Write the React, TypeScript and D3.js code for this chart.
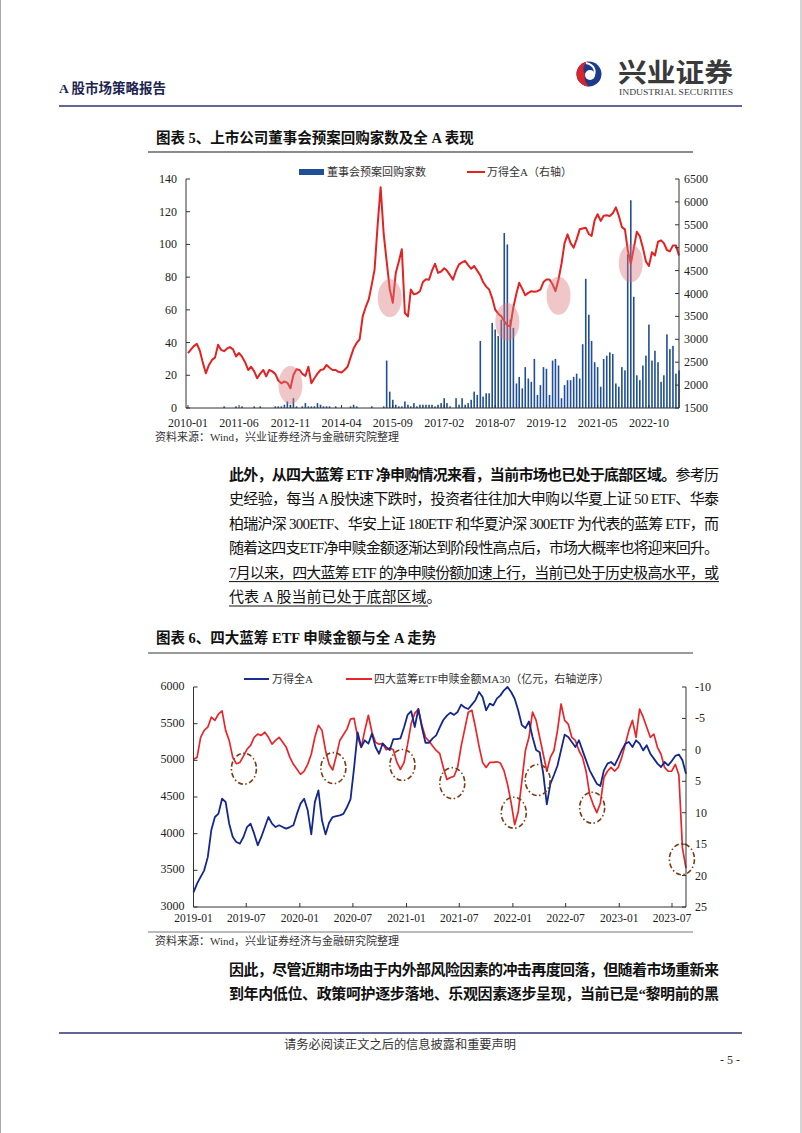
import React from 'react';
import * as d3 from 'd3';

// ---------------- Chart 1 data (monthly, 2010-01 .. 2023-08) ----------------
const chart1FirstMonth = '2010-01';
const buybackCounts = [
  0, 0, 0, 0, 0, 0, 0, 0, 0, 0,
  0, 0, 1, 0, 0, 0, 1, 0, 1, 0,
  0, 0, 1, 0, 1, 0, 0, 0, 0, 1,
  1, 1, 2, 4, 2, 6, 1, 0, 1, 3,
  1, 1, 1, 3, 2, 1, 1, 1, 0, 1,
  0, 0, 0, 0, 1, 2, 1, 0, 0, 0,
  0, 1, 0, 0, 0, 1, 29, 10, 5, 2,
  1, 1, 4, 2, 1, 3, 1, 2, 2, 2,
  2, 2, 1, 2, 3, 6, 3, 1, 0, 6,
  2, 6, 2, 3, 5, 10, 8, 41, 7, 9,
  9, 52, 48, 44, 54, 107, 100, 54, 49, 15,
  19, 12, 25, 18, 16, 30, 8, 14, 25, 24,
  8, 29, 30, 26, 6, 14, 17, 17, 19, 21,
  18, 39, 79, 57, 41, 28, 25, 13, 30, 32,
  34, 33, 15, 13, 25, 23, 94, 127, 68, 20,
  17, 26, 32, 51, 29, 35, 28, 16, 20, 45,
  36, 38, 21, 23,
];
const windAMonthly = [
  2700, 2780, 2850, 2900, 2750, 2480, 2260, 2440, 2550, 2600,
  2880, 2770, 2740, 2800, 2830, 2780, 2625, 2700, 2620, 2500,
  2330, 2400, 2300, 2150, 2250, 2330, 2190, 2330, 2300, 2245,
  2100, 2040, 2080, 2050, 1930, 2220, 2345, 2330, 2245, 2200,
  2400, 2040, 2150, 2250, 2330, 2345, 2440, 2380, 2330, 2330,
  2290, 2275, 2330, 2400, 2600, 2800, 2920, 3000, 3500, 3700,
  3870, 4200, 4525, 5500, 6320, 5300, 4700, 4100, 3795, 4450,
  4700, 4965, 3575, 3500, 4085, 3980, 4000, 4050, 4250, 4310,
  4300, 4500, 4650, 4450, 4480, 4550, 4500, 4400, 4300, 4500,
  4635, 4680, 4710, 4620, 4540, 4600, 4500, 4394, 4250, 4150,
  4087, 3900, 3650, 3560, 3503, 3400, 3300, 3284, 3700, 4000,
  4233, 4100, 3960, 4014, 4051, 4040, 4051, 4087, 4250, 4306,
  4306, 4200, 4051, 4306, 4650, 5100, 5292, 5100, 5000, 5182,
  5401, 5420, 5438, 5300, 5255, 5600, 5730, 5584, 5700, 5708,
  5693, 5750, 5880, 5700, 5450, 5400, 4950, 4650, 4980, 5350,
  5250, 5000, 4700, 4600, 4900, 4830, 5130, 5160, 5100, 4950,
  4920, 5050, 5050, 4830,
];
const chart1LabelStep = 17;
const chart1LeftTicks = [0, 20, 40, 60, 80, 100, 120, 140];
const chart1RightTicks = [1500, 2000, 2500, 3000, 3500, 4000, 4500, 5000, 5500, 6000, 6500];
const chart1Highlights = [
  { month: '2012-11', value: 2000 },
  { month: '2015-08', value: 3900 },
  { month: '2018-11', value: 3380 },
  { month: '2020-04', value: 3950 },
  { month: '2022-04', value: 4660 },
];

// ---------------- Chart 2 data (regular sampling, 2019-01-01 .. 2023-08-18) ----------------
const chart2Start = '2019-01-01';
const chart2End = '2023-08-18';
const windADaily = [
  3200, 3318, 3410, 3500, 3680, 4050, 4227, 4273, 4477, 4432,
  4136, 3955, 3886, 3864, 3955, 4090, 4136, 4000, 3841, 3955,
  4090, 4227, 4136, 4090, 4114, 4090, 4068, 4090, 4114, 4273,
  4410, 4477, 4318, 3990, 4430, 4590, 4182, 3990, 4150, 4227,
  4240, 4250, 4270, 4360, 4470, 4900, 5380, 5182, 5273, 5227,
  5364, 5182, 5090, 5230, 5180, 5140, 5290, 5290, 5300, 5450,
  5620, 5670, 5455, 5700, 5450, 5240, 5240, 5300, 5340, 5450,
  5550, 5610, 5650, 5620, 5660, 5760, 5720, 5700, 5760, 5820,
  5932, 5864, 5682, 5773, 5750, 5841, 5886, 5955, 6000, 5932,
  5840, 5680, 5480, 5440, 5530, 5318, 5140, 5110, 4818, 4400,
  4680, 4800, 4930, 5140, 5350, 5318, 5250, 5182, 5273, 5136,
  5000, 4864, 4773, 4682, 4650, 4864, 4955, 4977, 4932, 5030,
  5136, 5227, 5250, 5182, 5273, 5227, 5136, 5205, 5091, 5023,
  4955, 4909, 4977, 4932, 4990, 5060, 5080, 5000, 4818,
];
const etfFlowMA30 = [
  1.5, 1.2, -2, -3.1, -3.6, -5.2, -4.7, -5.7, -6.2, -3.1,
  -1.5, 1.2, 2.2, 2.0, 1.0, -0.1, -0.7, -2, -2.5, -2.3,
  -2.8, -2, -0.9, -1.5, -2, -1.2, -0.4, 1.2, 2.3, 3.1,
  3.9, 3.4, 2.3, 0.7, -2, -3.9, -3.1, 0.1, 2.3, 3.2,
  1.0, -1.5, -2.4, -3.3, -4.9, -5.0, -2, -0.4, -3.1, -5.5,
  -2.8, -1.2, -0.9, -1.0, 0.0, -0.3, 0.0, 2.0, 3.1, 2.0,
  -0.9, -4.2, -5.8, -6.5, -3.9, -2.0, -1.4, -0.6, 0.1, 0.6,
  2.8, 4.7, 4.4, 4.2, 2.8, -0.6, -3.3, -6.0, -6.3, -3.6,
  -0.6, 2.0, 2.8, 2.0, 2.0, 1.9, 2.1, 3.3, 5.5, 8.4,
  11.9, 9.8, 5.0, 0.1, -2.0, -6.0, -4.7, -2.0, 0.7, 3.4,
  1.2, 0.1, -3.1, -7.3, -4.7, -4.1, -2.0, -1.5, 0.1, 1.2,
  3.4, 7.1, 8.7, 10.0, 8.5, 4.4, 3.4, 2.8, 3.4, 2.8,
  1.2, -0.9, -3.1, -4.7, -2.0, -6.5, -5.2, -3.6, -2.0, -2.5,
  -0.4, 0.7, 2.8, 3.4, 3.4, 2.3, 4.0, 15.6, 18.8,
];
const chart2LeftTicks = [3000, 3500, 4000, 4500, 5000, 5500, 6000];
const chart2RightTicks = [-10, -5, 0, 5, 10, 15, 20, 25];
const chart2Highlights = [
  { date: '2019-06-23', value: 3.0 },
  { date: '2020-04-25', value: 2.9 },
  { date: '2020-12-18', value: 2.4 },
  { date: '2021-06-07', value: 5.3 },
  { date: '2022-01-04', value: 10.0 },
  { date: '2022-03-27', value: 4.8 },
  { date: '2022-09-30', value: 9.2 },
  { date: '2023-08-04', value: 17.4 },
];

// ---------------- text ----------------
const para1 = [
  { parts: [{ t: '此外，从四大蓝筹 ETF 净申购情况来看，当前市场也已处于底部区域。', b: true }, { t: '参考历', b: false }], full: true, u: false },
  { parts: [{ t: '史经验，每当 A 股快速下跌时，投资者往往加大申购以华夏上证 50 ETF、华泰', b: false }], full: true, u: false },
  { parts: [{ t: '柏瑞沪深 300ETF、华安上证 180ETF 和华夏沪深 300ETF 为代表的蓝筹 ETF，而', b: false }], full: true, u: false },
  { parts: [{ t: '随着这四支ETF净申赎金额逐渐达到阶段性高点后，市场大概率也将迎来回升。', b: false }], full: true, u: false },
  { parts: [{ t: '7月以来，四大蓝筹 ETF 的净申赎份额加速上行，当前已处于历史极高水平，或', b: false }], full: true, u: true },
  { parts: [{ t: '代表 A 股当前已处于底部区域。', b: false }], full: false, u: true },
];
const para2 = [
  '因此，尽管近期市场由于内外部风险因素的冲击再度回落，但随着市场重新来',
  '到年内低位、政策呵护逐步落地、乐观因素逐步呈现，当前已是“黎明前的黑',
];

const SERIF = "'Liberation Serif', 'Times New Roman', serif";
const MIXED = "'Liberation Serif', 'Noto Sans CJK SC', sans-serif";
const CJK = "'Noto Sans CJK SC', sans-serif";

export default function App() {
  // ----- chart 1 scales -----
  const c1 = { left: 186, right: 679, top: 179, bottom: 408 };
  const parseM = d3.timeParse('%Y-%m');
  const fmtM = d3.timeFormat('%Y-%m');
  const m0 = parseM(chart1FirstMonth) as Date;
  const months = buybackCounts.map((_, i) => d3.timeMonth.offset(m0, i));
  const x1 = d3
    .scaleTime()
    .domain([d3.timeDay.offset(m0, -20), months[months.length - 1]])
    .range([c1.left, c1.right]);
  const y1L = d3.scaleLinear().domain([0, 140]).range([c1.bottom, c1.top]);
  const y1R = d3.scaleLinear().domain([1500, 6500]).range([c1.bottom, c1.top]);
  const line1 = d3
    .line<number>()
    .x((_, i) => x1(months[i]))
    .y((d) => y1R(d))
    .curve(d3.curveLinear);
  const c1Labels = months.filter((_, i) => i % chart1LabelStep === 0);

  // ----- chart 2 scales -----
  const c2 = { left: 193.5, right: 686, top: 687, bottom: 907 };
  const parseD = d3.timeParse('%Y-%m-%d');
  const t0 = (parseD(chart2Start) as Date).getTime();
  const t1 = (parseD(chart2End) as Date).getTime();
  const n2 = windADaily.length;
  const dates2 = windADaily.map((_, i) => new Date(t0 + (i * (t1 - t0)) / (n2 - 1)));
  const x2 = d3.scaleTime().domain([new Date(t0), new Date(t1)]).range([c2.left, c2.right]);
  const y2L = d3.scaleLinear().domain([3000, 6000]).range([c2.bottom, c2.top]);
  const y2R = d3.scaleLinear().domain([-10, 25]).range([c2.top, c2.bottom]);
  const lineBlue = d3.line<number>().x((_, i) => x2(dates2[i])).y((d) => y2L(d));
  const lineRed = d3.line<number>().x((_, i) => x2(dates2[i])).y((d) => y2R(d));
  const c2Ticks = d3.timeMonth.every(6)!.range(new Date(2019, 0, 1), new Date(2023, 7, 2));

  const axisColor = '#333';
  const textColor = '#222';

  return (
    <svg
      width={802}
      height={1133}
      viewBox="0 0 802 1133"
      style={{ position: 'absolute', left: 0, top: 0, background: '#fff' }}
    >
      <rect x={0} y={0} width={802} height={1133} fill="#fff" />
      <line x1={0.5} y1={0} x2={0.5} y2={1133} stroke="#aaa" />
      <line x1={801} y1={0} x2={801} y2={1133} stroke="#aaa" />

      {/* ---------- header ---------- */}
      <text x={59} y={93} fontFamily={MIXED} fontSize={13.5} fontWeight="bold" fill="#1c2452">
        A 股市场策略报告
      </text>
      <g transform="translate(589,74)">
        <circle r={12.5} fill="#1d3b8c" />
        <path d="M0,-12.5 A12.5,12.5 0 0,0 0,12.5 A12.5,12.5 0 0,1 -4,0 A8,8 0 0,1 0,-12.5 Z" fill="#d8262e" />
        <circle cx={1} cy={1} r={5} fill="#fff" />
        <path d="M-3,-11 C 6,-9 8,-2 3,4" fill="none" stroke="#fff" strokeWidth={2} />
      </g>
      <text x={618} y={82} fontFamily={CJK} fontSize={26} fontWeight="bold" fill="#3a3a3a" textLength={115} lengthAdjust="spacingAndGlyphs">
        兴业证券
      </text>
      <text x={619} y={95} fontFamily={SERIF} fontSize={9} fill="#3a3a3a" textLength={114} lengthAdjust="spacingAndGlyphs">
        INDUSTRIAL SECURITIES
      </text>
      <line x1={59} y1={106} x2={742} y2={106} stroke="#2b3470" strokeWidth={1.5} />

      {/* ---------- chart 1 ---------- */}
      <text x={156} y={143} fontFamily={MIXED} fontSize={14.5} fontWeight="bold" fill="#111">
        图表 5、上市公司董事会预案回购家数及全 A 表现
      </text>
      <line x1={148} y1={152} x2={693} y2={152} stroke="#8a8a8a" strokeWidth={2} />

      {/* legend */}
      <rect x={299} y={169} width={25} height={6} fill="#1f4f96" />
      <text x={327} y={176} fontFamily={CJK} fontSize={11} fill="#333">董事会预案回购家数</text>
      <line x1={467} y1={172} x2={485} y2={172} stroke="#e32222" strokeWidth={2} />
      <text x={487} y={176} fontFamily={MIXED} fontSize={11} fill="#333">万得全A（右轴）</text>

      {/* bars */}
      {buybackCounts.map((v, i) =>
        v > 0 ? (
          <rect
            key={'b' + i}
            x={x1(months[i]) - 0.8}
            y={y1L(v)}
            width={1.6}
            height={y1L(0) - y1L(v)}
            fill="#1f4f96"
          />
        ) : null
      )}
      {/* line */}
      <path d={line1(windAMonthly) || ''} fill="none" stroke="#e32222" strokeWidth={2} strokeLinejoin="round" />
      {/* highlight ellipses */}
      {chart1Highlights.map((h, i) => (
        <ellipse
          key={'h1' + i}
          cx={x1(parseM(h.month) as Date)}
          cy={y1R(h.value)}
          rx={12}
          ry={19}
          fill="#d8797b"
          opacity={0.42}
        />
      ))}
      {/* axes */}
      <line x1={c1.left} y1={c1.top} x2={c1.left} y2={c1.bottom} stroke={axisColor} />
      <line x1={c1.right} y1={c1.top} x2={c1.right} y2={c1.bottom} stroke={axisColor} />
      <line x1={c1.left} y1={c1.bottom} x2={c1.right} y2={c1.bottom} stroke={axisColor} />
      {chart1LeftTicks.map((t) => (
        <g key={'l1' + t}>
          <line x1={c1.left} x2={c1.left + 4} y1={y1L(t)} y2={y1L(t)} stroke={axisColor} />
          <text x={c1.left - 9} y={y1L(t) + 4} textAnchor="end" fontFamily={SERIF} fontSize={12} fill={textColor}>
            {t}
          </text>
        </g>
      ))}
      {chart1RightTicks.map((t) => (
        <g key={'r1' + t}>
          <line x1={c1.right - 4} x2={c1.right} y1={y1R(t)} y2={y1R(t)} stroke={axisColor} />
          <text x={c1.right + 5} y={y1R(t) + 4} fontFamily={SERIF} fontSize={12} fill={textColor}>
            {t}
          </text>
        </g>
      ))}
      {c1Labels.map((d, i) => (
        <g key={'x1' + i}>
          <line x1={x1(d)} x2={x1(d)} y1={c1.bottom} y2={c1.bottom - 3} stroke={axisColor} />
          <text x={x1(d)} y={427} textAnchor="middle" fontFamily={SERIF} fontSize={12} fill={textColor}>
            {fmtM(d)}
          </text>
        </g>
      ))}
      <text x={155} y={441} fontFamily={MIXED} fontSize={11} fill="#333">
        资料来源：Wind，兴业证券经济与金融研究院整理
      </text>

      {/* ---------- paragraph 1 ---------- */}
      {para1.map((ln, i) => {
        const y = 480 + i * 24.4;
        return (
          <g key={'p1' + i}>
            <text
              x={229}
              y={y}
              fontFamily={MIXED}
              fontSize={15}
              fill="#111"
              textLength={ln.full ? 490 : undefined}
              lengthAdjust={ln.full ? 'spacing' : undefined}
            >
              {ln.parts.map((p, j) => (
                <tspan key={j} fontWeight={p.b ? 'bold' : 'normal'}>
                  {p.t}
                </tspan>
              ))}
            </text>
            {ln.u ? (
              <line x1={229} x2={ln.full ? 719 : 428} y1={y + 4} y2={y + 4} stroke="#111" strokeWidth={1} />
            ) : null}
          </g>
        );
      })}

      {/* ---------- chart 2 ---------- */}
      <text x={156} y={643} fontFamily={MIXED} fontSize={14.5} fontWeight="bold" fill="#111">
        图表 6、四大蓝筹 ETF 申赎金额与全 A 走势
      </text>
      <line x1={148} y1={653} x2={693} y2={653} stroke="#9a9a9a" strokeWidth={2} />

      <line x1={244} y1={679} x2={269} y2={679} stroke="#1a2f8f" strokeWidth={2} />
      <text x={272} y={683} fontFamily={MIXED} fontSize={11} fill="#333">万得全A</text>
      <line x1={346} y1={679} x2={372} y2={679} stroke="#e8262a" strokeWidth={2} />
      <text x={374} y={683} fontFamily={MIXED} fontSize={11} fill="#333">
        四大蓝筹ETF申赎金额MA30（亿元，右轴逆序）
      </text>

      <path d={lineRed(etfFlowMA30) || ''} fill="none" stroke="#e8262a" strokeWidth={1.7} strokeLinejoin="round" />
      <path d={lineBlue(windADaily) || ''} fill="none" stroke="#14288c" strokeWidth={1.8} strokeLinejoin="round" />
      {chart2Highlights.map((h, i) => (
        <ellipse
          key={'h2' + i}
          cx={x2(parseD(h.date) as Date)}
          cy={y2R(h.value)}
          rx={12.5}
          ry={15.5}
          fill="none"
          stroke="#7b3b12"
          strokeWidth={1.6}
          strokeDasharray="5 2.5 1.5 2.5"
        />
      ))}
      <line x1={c2.left} y1={c2.top} x2={c2.left} y2={c2.bottom} stroke={axisColor} />
      <line x1={c2.right} y1={c2.top} x2={c2.right} y2={c2.bottom} stroke={axisColor} />
      <line x1={c2.left} y1={c2.bottom} x2={c2.right} y2={c2.bottom} stroke={axisColor} />
      {chart2LeftTicks.map((t) => (
        <g key={'l2' + t}>
          <line x1={c2.left} x2={c2.left + 4} y1={y2L(t)} y2={y2L(t)} stroke={axisColor} />
          <text x={c2.left - 9} y={y2L(t) + 3} textAnchor="end" fontFamily={SERIF} fontSize={12} fill={textColor}>
            {t}
          </text>
        </g>
      ))}
      {chart2RightTicks.map((t) => (
        <g key={'r2' + t}>
          <line x1={c2.right - 4} x2={c2.right} y1={y2R(t)} y2={y2R(t)} stroke={axisColor} />
          <text x={c2.right + 9} y={y2R(t) + 4} fontFamily={SERIF} fontSize={12} fill={textColor}>
            {t}
          </text>
        </g>
      ))}
      {c2Ticks.map((d, i) => (
        <g key={'x2' + i}>
          <line x1={x2(d)} x2={x2(d)} y1={c2.bottom} y2={c2.bottom - 4} stroke={axisColor} />
          <text x={x2(d)} y={922} textAnchor="middle" fontFamily={SERIF} fontSize={11.5} fill={textColor}>
            {fmtM(d)}
          </text>
        </g>
      ))}
      <line x1={148} y1={932} x2={693} y2={932} stroke="#777" strokeWidth={1} />
      <text x={155} y={945} fontFamily={MIXED} fontSize={11} fill="#333">
        资料来源：Wind，兴业证券经济与金融研究院整理
      </text>

      {/* ---------- paragraph 2 ---------- */}
      {para2.map((t, i) => (
        <text
          key={'p2' + i}
          x={229}
          y={975 + i * 24.4}
          fontFamily={MIXED}
          fontSize={15}
          fontWeight="bold"
          fill="#111"
          textLength={490}
          lengthAdjust="spacing"
        >
          {t}
        </text>
      ))}

      {/* ---------- footer ---------- */}
      <line x1={59} y1={1033} x2={742} y2={1033} stroke="#2b3470" strokeWidth={1.5} />
      <text x={284} y={1049} fontFamily={CJK} fontSize={12} fill="#333" textLength={232} lengthAdjust="spacingAndGlyphs">
        请务必阅读正文之后的信息披露和重要声明
      </text>
      <text x={740} y={1064} textAnchor="end" fontFamily={SERIF} fontSize={12} fill="#333">
        - 5 -
      </text>
    </svg>
  );
}
